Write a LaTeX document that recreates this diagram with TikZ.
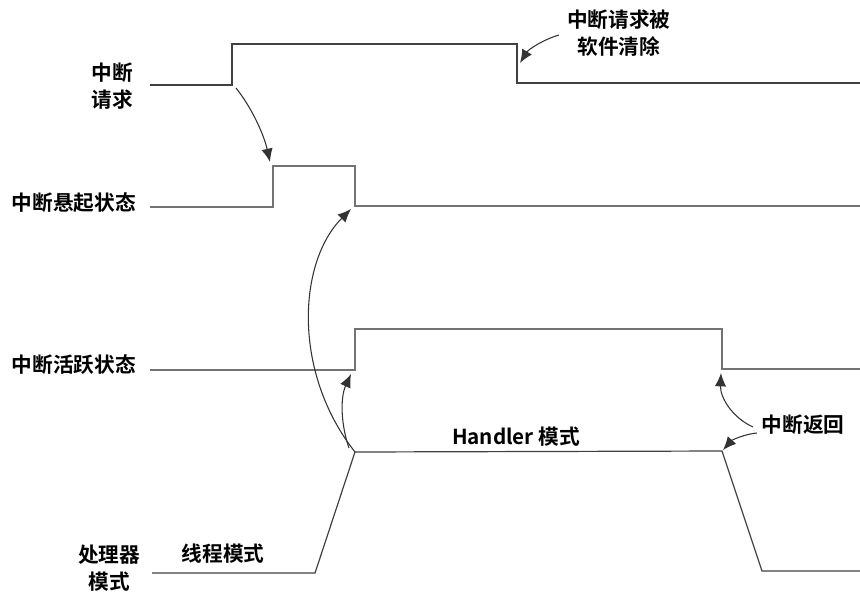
\documentclass[tikz,border=0pt]{standalone}
\usepackage{fontspec}
\setmainfont{Noto Sans CJK SC}[BoldFont={Noto Sans CJK SC Bold}]
\usetikzlibrary{arrows.meta}
\begin{document}
\begin{tikzpicture}[x=0.75pt,y=-0.75pt,
  lab/.style={font=\bfseries\fontsize{15.5}{20}\selectfont, align=center, inner sep=0pt},
  sig/.style={draw=black!75, line width=0.9pt},
  sig2/.style={draw=black!55, line width=0.9pt},
  arr/.style={draw=black!80, line width=0.8pt, -{Latex[length=10pt,width=8.5pt]}}]
\useasboundingbox (0,0) rectangle (860,594);
% labels
\node[lab] (lreq) at (112,86) {中断\\请求};
\node[lab, anchor=east] (lpend) at (136,203) {中断悬起状态};
\node[lab, anchor=east] (lact) at (136,365) {中断活跃状态};
\node[lab] (lproc) at (109,568) {处理器\\模式};
\node[lab] (lthr) at (223,554) {线程模式};
\node[lab] (lhan) at (516,437) {Handler 模式};
\node[lab, anchor=west] (lclr) at (567,33) {中断请求被\\软件清除};
\node[lab] (lret) at (803,425) {中断返回};
% interrupt request waveform
\coordinate (r0) at (150,85);
\coordinate (r1) at (232,85);
\coordinate (r2) at (232,44);
\coordinate (r3) at (517,44);
\coordinate (r4) at (517,83);
\coordinate (r5) at (860,83);
\draw[sig] (r0) -- (r1) -- (r2) -- (r3) -- (r4) -- (r5);
% pending waveform
\coordinate (p0) at (150,207);
\coordinate (p1) at (273,207);
\coordinate (p2) at (273,166);
\coordinate (p3) at (355,166);
\coordinate (p4) at (355,206);
\coordinate (p5) at (860,206);
\draw[sig2] (p0) -- (p1) -- (p2) -- (p3) -- (p4) -- (p5);
% active waveform
\coordinate (a0) at (150,370);
\coordinate (a1) at (355,370);
\coordinate (a2) at (355,329);
\coordinate (a3) at (722,329);
\coordinate (a4) at (722,369);
\coordinate (a5) at (860,369);
\draw[sig2] (a0) -- (a1) -- (a2) -- (a3) -- (a4) -- (a5);
% processor mode
\coordinate (m0) at (152,573);
\coordinate (m1) at (315,573);
\coordinate (m2) at (355,452);
\coordinate (m3) at (722,451);
\coordinate (m4) at (762,571);
\coordinate (m5) at (860,571);
\draw[sig] (m0) -- (m1) -- (m2) -- (m3) -- (m4) -- (m5);
% arrows
\coordinate (reqs) at (236,88);
\coordinate (pendt) at (270,162);
\draw[arr] (reqs) .. controls (252,108) and (264,135) .. (pendt);
\coordinate (clrs) at (559,35);
\coordinate (clrt) at (520,63);
\draw[arr] (clrs) .. controls (542,40) and (528,50) .. (clrt);
\coordinate (pend2) at (351,209);
\draw[arr] (m2) .. controls (292,372) and (298,262) .. (pend2);
\coordinate (acts) at (349,448);
\coordinate (actt) at (351,374);
\draw[arr] (acts) .. controls (341,425) and (340,398) .. (actt);
\coordinate (rets1) at (753,427);
\coordinate (rett1) at (721,373);
\draw[arr] (rets1) .. controls (733,418) and (720,398) .. (rett1);
\coordinate (rets2) at (757,433);
\coordinate (rett2) at (723,450);
\draw[arr] (rets2) .. controls (745,434) and (732,440) .. (rett2);
\end{tikzpicture}
\end{document}
